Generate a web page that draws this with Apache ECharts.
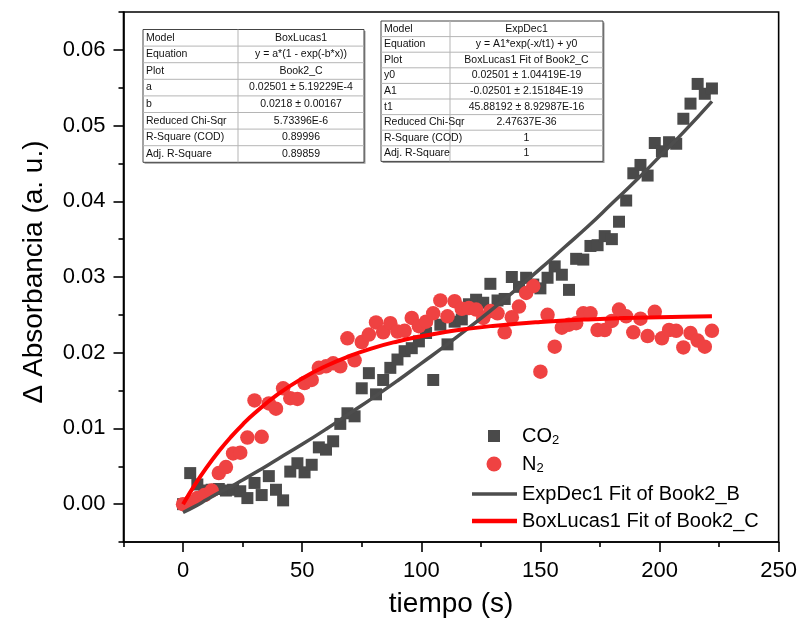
<!DOCTYPE html>
<html>
<head>
<meta charset="utf-8">
<script src="https://cdn.jsdelivr.net/npm/echarts@6/dist/echarts.min.js"></script>
<style>
html,body{margin:0;padding:0;background:#fff;}
#chart{width:800px;height:625px;}
</style>
</head>
<body>
<div id="chart"></div>
<script>
// ---------- data ----------
const tiempo = [0,3,6,9,12,15,18,21,24,27,30,33,36,39,42,45,48,51,54,57,60,63,66,69,72,75,78,81,84,87,90,93,96,99,102,105,108,111,114,117,120,123,126,129,132,135,138,141,144,147,150,153,156,159,162,165,168,171,174,177,180,183,186,189,192,195,198,201,204,207,210,213,216,219,222];
const co2 = [0.0000,0.0041,0.0026,0.0018,0.0019,0.0020,0.0018,0.0019,0.0017,0.0008,0.0028,0.0012,0.0037,0.0019,0.0005,0.0043,0.0054,0.0042,0.0052,0.0075,0.0072,0.0083,0.0106,0.0120,0.0116,0.0153,0.0173,0.0145,0.0164,0.0180,0.0191,0.0202,0.0206,0.0215,0.0226,0.0164,0.0237,0.0211,0.0241,0.0244,0.0264,0.0270,0.0266,0.0291,0.0269,0.0271,0.0300,0.0287,0.0299,0.0290,0.0285,0.0299,0.0314,0.0303,0.0283,0.0324,0.0323,0.0341,0.0342,0.0354,0.0350,0.0373,0.0401,0.0437,0.0448,0.0434,0.0477,0.0466,0.0478,0.0476,0.0509,0.0529,0.0555,0.0542,0.0549];
const n2 = [0.0000,0.0003,0.0008,0.0012,0.0018,0.0041,0.0049,0.0067,0.0068,0.0088,0.0137,0.0089,0.0133,0.0126,0.0153,0.0140,0.0139,0.0160,0.0164,0.0180,0.0182,0.0186,0.0182,0.0219,0.0190,0.0214,0.0224,0.0240,0.0227,0.0239,0.0228,0.0229,0.0246,0.0235,0.0241,0.0252,0.0269,0.0248,0.0268,0.0258,0.0259,0.0257,0.0246,0.0255,0.0252,0.0227,0.0247,0.0261,0.0279,0.0288,0.0175,0.0250,0.0208,0.0233,0.0237,0.0239,0.0252,0.0252,0.0230,0.0230,0.0242,0.0257,0.0248,0.0227,0.0245,0.0222,0.0254,0.0219,0.0230,0.0229,0.0207,0.0226,0.0216,0.0208,0.0229];
const fitX = [0,5,10,15,20,25,30,40,50,60,70,80,90,100,110,120,130,140,150,160,170,180,190,200,210,222];
const fitCO2 = [-0.0011,-0.0003,0.0006,0.0015,0.0023,0.0032,0.0041,0.0060,0.0079,0.0099,0.0120,0.0141,0.0163,0.0186,0.0209,0.0233,0.0258,0.0284,0.0311,0.0339,0.0367,0.0397,0.0427,0.0459,0.0491,0.0532];
const fitN2 = [0,0.00258,0.0049,0.00698,0.00884,0.01051,0.0120,0.01455,0.0166,0.01825,0.01957,0.02064,0.02149,0.02218,0.02274,0.02318,0.02354,0.02383,0.02406,0.02425,0.02440,0.02452,0.02461,0.02469,0.02475,0.02481];
const xMajorTicks = [0,50,100,150,200,250];
const xMinorTicks = [-25,25,75,125,175,225];
const yMajorTicks = [0,0.01,0.02,0.03,0.04,0.05,0.06];
const yMinorTicks = [-0.005,0.005,0.015,0.025,0.035,0.045,0.055,0.065];
const seriesNames = ['CO2','N2','ExpDec1 Fit of Book2_B','BoxLucas1 Fit of Book2_C'];
const table1 = [['Model','BoxLucas1'],['Equation','y = a*(1 - exp(-b*x))'],['Plot','Book2_C'],['a','0.02501 ± 5.19229E-4'],['b','0.0218 ± 0.00167'],['Reduced Chi-Sqr','5.73396E-6'],['R-Square (COD)','0.89996'],['Adj. R-Square','0.89859']];
const table2 = [['Model','ExpDec1'],['Equation','y = A1*exp(-x/t1) + y0'],['Plot','BoxLucas1 Fit of Book2_C'],['y0','0.02501 ± 1.04419E-19'],['A1','-0.02501 ± 2.15184E-19'],['t1','45.88192 ± 8.92987E-16'],['Reduced Chi-Sqr','2.47637E-36'],['R-Square (COD)','1'],['Adj. R-Square','1']];

// ---------- chart ----------
const FONT = '"Liberation Sans", Arial, sans-serif';
const chart = echarts.init(document.getElementById('chart'), null, {renderer:'canvas'});

function pairs(xs, ys){ return xs.map((x,i)=>[x, ys[i]]); }

function tableGraphic(rows, left, top, w, split, rowH){
  const els = [];
  const h = rows.length * rowH;
  els.push({type:'rect', shape:{x:left+1.5, y:top+1.5, width:w, height:h}, style:{fill:'#9a9a9a'}, silent:true, z:100});
  els.push({type:'rect', shape:{x:left, y:top, width:w, height:h}, style:{fill:'#fff', stroke:'#444', lineWidth:1}, silent:true, z:101});
  for(let i=1;i<rows.length;i++){
    els.push({type:'line', shape:{x1:left, y1:top+i*rowH, x2:left+w, y2:top+i*rowH}, style:{stroke:'#b5b5b5', lineWidth:1}, silent:true, z:102});
  }
  els.push({type:'line', shape:{x1:left+split, y1:top, x2:left+split, y2:top+h}, style:{stroke:'#b5b5b5', lineWidth:1}, silent:true, z:102});
  rows.forEach((r,i)=>{
    const cy = top + (i+0.5)*rowH;
    els.push({type:'text', x:left+3, y:cy, style:{text:r[0], font:'10.5px '+FONT, fill:'#111', textAlign:'left', textVerticalAlign:'middle'}, silent:true, z:103});
    els.push({type:'text', x:left+split+(w-split)/2, y:cy, style:{text:r[1], font:'10.5px '+FONT, fill:'#111', textAlign:'center', textVerticalAlign:'middle'}, silent:true, z:103});
  });
  return els;
}

function legendFor(name, top, opts){
  return Object.assign({
    left: 472, top: top, padding: 0, itemGap: 0, itemWidth: 45, itemHeight: 4,
    selectedMode: false,
    data: [{name: name, icon: 'rect'}],
    textStyle: {fontFamily: FONT, fontSize: 20, color: '#000'}
  }, opts || {});
}

function subRich(padLeft){
  return {
    a: {fontFamily: FONT, fontSize: 20, color: '#000', padding: [0,0,0,padLeft]},
    s: {fontFamily: FONT, fontSize: 13, color: '#000', padding: [9,0,0,0]}
  };
}

const option = {
  backgroundColor: '#fff',
  animation: false,
  grid: {left: 123.5, right: 18, top: 12, bottom: 83, show: true, borderColor: '#000', borderWidth: 1.6, backgroundColor: 'transparent'},
  legend: [
    legendFor(seriesNames[0], 426, {left: 488, itemWidth: 12, itemHeight: 12, data: [{name: seriesNames[0], icon: 'rect'}], formatter: () => '{a|CO}{s|2}', textStyle: {fontFamily: FONT, fontSize: 20, color: '#000', rich: subRich(17)}}),
    legendFor(seriesNames[1], 454, {left: 486.5, itemWidth: 15, itemHeight: 15, data: [{name: seriesNames[1], icon: 'circle'}], formatter: () => '{a|N}{s|2}', textStyle: {fontFamily: FONT, fontSize: 20, color: '#000', rich: subRich(15.5)}}),
    legendFor(seriesNames[2], 484, {itemHeight: 3.5}),
    legendFor(seriesNames[3], 511, {itemHeight: 4.5})
  ],
  xAxis: [
    {type: 'value', min: -25, max: 250, position: 'bottom',
     name: 'tiempo (s)', nameLocation: 'middle', nameGap: 48,
     nameTextStyle: {fontFamily: FONT, fontSize: 28, color: '#000'},
     axisLine: {show: true, onZero: false, lineStyle: {color: '#000', width: 1.6}},
     axisTick: {show: true, inside: false, length: 10, customValues: xMajorTicks, lineStyle: {color: '#000', width: 1.6}},
     axisLabel: {show: true, customValues: xMajorTicks, margin: 18, fontFamily: FONT, fontSize: 22, color: '#000'},
     splitLine: {show: false}},
    {type: 'value', min: -25, max: 250, position: 'bottom', gridIndex: 0,
     axisLine: {show: false, onZero: false},
     axisTick: {show: true, inside: false, length: 5, customValues: xMinorTicks, lineStyle: {color: '#000', width: 1.6}},
     axisLabel: {show: false}, splitLine: {show: false}}
  ],
  yAxis: [
    {type: 'value', min: -0.005, max: 0.065, position: 'left',
     name: 'Δ Absorbancia (a. u.)', nameLocation: 'middle', nameGap: 75,
     nameTextStyle: {fontFamily: FONT, fontSize: 28, color: '#000', padding: [0,0,0,10]},
     axisLine: {show: true, onZero: false, lineStyle: {color: '#000', width: 1.6}},
     axisTick: {show: true, inside: false, length: 10, customValues: yMajorTicks, lineStyle: {color: '#000', width: 1.6}},
     axisLabel: {show: true, customValues: yMajorTicks, margin: 18, fontFamily: FONT, fontSize: 22, color: '#000', formatter: v => v.toFixed(2)},
     splitLine: {show: false}},
    {type: 'value', min: -0.005, max: 0.065, position: 'left', gridIndex: 0,
     axisLine: {show: false, onZero: false},
     axisTick: {show: true, inside: false, length: 5, customValues: yMinorTicks, lineStyle: {color: '#000', width: 1.6}},
     axisLabel: {show: false}, splitLine: {show: false}}
  ],
  series: [
    {name: seriesNames[0], type: 'scatter', symbol: 'rect', symbolSize: 12, data: pairs(tiempo, co2), itemStyle: {color: '#4a4a4a', opacity: 1}, z: 2},
    {name: seriesNames[1], type: 'scatter', symbol: 'circle', symbolSize: 14.5, data: pairs(tiempo, n2), itemStyle: {color: '#ef4242', opacity: 1}, z: 3},
    {name: seriesNames[2], type: 'line', symbol: 'none', smooth: true, data: pairs(fitX, fitCO2), lineStyle: {color: '#4d4d4d', width: 3.5}, itemStyle: {color: '#4d4d4d'}, z: 4},
    {name: seriesNames[3], type: 'line', symbol: 'none', smooth: true, data: pairs(fitX, fitN2), lineStyle: {color: '#ff0000', width: 4}, itemStyle: {color: '#ff0000'}, z: 5}
  ],
  graphic: [].concat(
    tableGraphic(table1, 143, 29.5, 221, 95, 16.6),
    tableGraphic(table2, 381, 21, 222, 69, 15.6)
  )
};
chart.setOption(option);
</script>
</body>
</html>
